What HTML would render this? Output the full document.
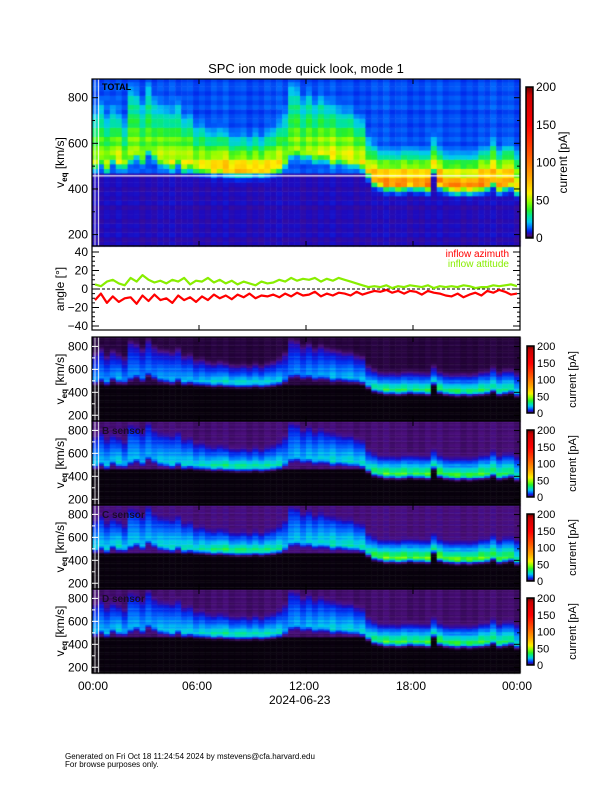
<!DOCTYPE html>
<html><head><meta charset="utf-8">
<style>
body{margin:0;background:#fff;}
#wrap{position:relative;width:612px;height:792px;overflow:hidden;background:#fff;font-family:"Liberation Sans",sans-serif;}
canvas{position:absolute;left:0;top:0;}
svg{position:absolute;left:0;top:0;}
text{font-family:"Liberation Sans",sans-serif;fill:#000;}
</style></head>
<body>
<div id="wrap">
<canvas id="cv" width="612" height="792"></canvas>
<svg id="sv" width="612" height="792">
<text x="306" y="73" font-size="13" text-anchor="middle">SPC ion mode quick look, mode 1</text>
<text x="78" y="690" font-size="12">00:00</text>
<text x="182" y="690" font-size="12">06:00</text>
<text x="289" y="690" font-size="12">12:00</text>
<text x="396" y="690" font-size="12">18:00</text>
<text x="502" y="690" font-size="12">00:00</text>
<text x="269" y="704" font-size="12">2024-06-23</text>
<text x="65" y="759" font-size="8">Generated on Fri Oct 18 11:24:54 2024 by mstevens@cfa.harvard.edu</text>
<text x="65" y="767" font-size="8">For browse purposes only.</text>
<text x="102" y="90" font-size="9" font-weight="bold">TOTAL</text>
<text x="102" y="434" font-size="10" font-weight="bold" style="fill:#1a0a2a">B sensor</text>
<text x="102" y="518" font-size="10" font-weight="bold" style="fill:#1a0a2a">C sensor</text>
<text x="102" y="602" font-size="10" font-weight="bold" style="fill:#1a0a2a">D sensor</text>
<text x="509" y="257" font-size="10" text-anchor="end" style="fill:#ff0000">inflow azimuth</text>
<text x="509" y="267" font-size="10" text-anchor="end" style="fill:#88ee00">inflow attitude</text>
<g id="ax"></g>
</svg>
</div>
<script>
// ---- data (20-minute bins, 72 per day) ----
const vPeak=[510,530,500,540,520,510, 540,560,530,580,550,530, 520,510,530,500,510,495, 495,490,485,490,485,480,
 478,480,478,485,478,485, 490,500,520,560, 570,550,560,540,550,545,530,535, 530,525,520,510, 470,440,430,
 420,420,415,420,425,420,420,415, 500,430,415, 410,405,410,405,410,415, 420,440,410,420,430,400];
const vTop=[680,720,650,700,660,640, 780,760,720,800,740,700, 700,680,720,650,660,620, 620,600,580,600,580,570,
 560,570,560,580,560,580, 600,620,680,800, 780,740,760,720,740,720,700,700, 680,680,660,640, 560,520,500,
 490,500,490,500,510,500,500,490, 560,500,490, 480,480,490,480,490,500, 510,540,500,520,520,500];
const ampTotal=[40,45,38,42,45,40, 40,38,42,36,40,42, 45,42,45,48,46,50, 52,55,58,60,62,60,
 65,62,66,60,64,58, 55,50,40,35, 38,40,42,45,42,45,48,46, 48,50,50,52, 60,75,85,
 90,88,92,90,85,88,90,92, 60,85,88, 90,92,88,90,92,90, 85,70,88,80,75,70];
const attitude=[5,3,8,10,6,4, 12,8,15,10,7,9, 6,10,8,12,5,9, 8,12,7,10,6,9, 5,8,6,4,8,6, 7,10,8,12,9,11,
 10,12,8,11,9,12, 10,8,6,4,2,3, 2,4,1,3,2,4, 3,2,4,1,3,2, 3,2,4,3,1,2, 2,4,3,4,5,3];
const azimuth=[-12,-5,-15,-8,-14,-10, -9,-16,-7,-13,-6,-12, -10,-15,-7,-12,-9,-14, -8,-12,-6,-10,-7,-11,
 -6,-9,-5,-10,-7,-8, -6,-9,-5,-8,-4,-7, -6,-3,-8,-5,-7,-4, -5,-7,-3,-6,-4,-2, -3,-1,-4,-2,-5,-2,
 -3,-6,-2,-4,-5,-7, -8,-5,-9,-6,-4,-7, -2,-4,-1,-3,-6,-5];
const sensorNames=['A','B','C','D'];
const sensorGain=[0.40,0.46,0.50,0.44];
const sensorBg=[2.2,3.8,4.2,3.6];
const cbTicks=[0,50,100,150,200];
const vTicks=[200,400,600,800];
const angTicks=[-40,-20,0,20,40];
const xTickHours=[0,6,12,18,24];

// ---- layout ----
const X0=92,X1=520,VMIN=150,VMAX=882,CUT=458;
const xs=h=>X0+(X1-X0)*h/24;
const panels=[{top:79,bot:246,kind:'total'},{top:337,bot:421,kind:0},{top:421,bot:505,kind:1},{top:505,bot:589,kind:2},{top:589,bot:673,kind:3}];
const AT=246,AB=330;
const ya=a=>289-a*0.925;
const stops=[[0,[0,0,0]],[1.5,[25,0,40]],[4,[75,15,125]],[7,[30,10,190]],[10,[0,40,235]],[15,[0,110,255]],[22,[0,200,240]],[30,[0,230,150]],[38,[40,240,40]],[48,[140,255,0]],[60,[255,240,0]],[80,[255,170,0]],[110,[255,90,0]],[150,[255,0,0]],[190,[200,0,0]],[200,[110,0,0]]];
function col(v){v=Math.max(0,Math.min(200,v));for(let i=1;i<stops.length;i++){if(v<=stops[i][0]){const a=stops[i-1],b=stops[i],f=(v-a[0])/(b[0]-a[0]);return 'rgb('+[0,1,2].map(k=>Math.round(a[1][k]+(b[1][k]-a[1][k])*f)).join(',')+')';}}return 'rgb(110,0,0)';}
const rowMod=[1,0.88,1.08,0.94,1.04,0.9,1.02];
const colMod=[1,0.9,1.06,0.95,1.1,0.92,1.0,1.04,0.88];
function prof(v,i){const p=vPeak[i],t=vTop[i];if(v<p){const d=(p-v)/28;return Math.exp(-d*d);}
 if(v<=t)return 1-0.65*(v-p)/Math.max(1,t-p);const d=(v-t)/50;return 0.35*Math.exp(-d*d);}
const cv=document.getElementById('cv').getContext('2d');
const N=vPeak.length;
panels.forEach((P,pi)=>{
 const ys=v=>P.bot-(P.bot-P.top)*(v-VMIN)/(VMAX-VMIN);
 const dv=pi===0?20:15;
 for(let i=0;i<N;i++){
  const xa=xs(24*i/N),xb=xs(24*(i+1)/N);
  let r=0;
  for(let v=VMIN;v<VMAX;v+=dv,r++){
   const m=rowMod[r%rowMod.length]*colMod[i%colMod.length];
   let val;
   if(P.kind==='total'){val=(7+(v>CUT?6:0))*m+ampTotal[i]*prof(v,i)*m;}
   else{const k=P.kind;val=(v>CUT?sensorBg[k]:0.5)*m+sensorGain[k]*ampTotal[i]*prof(v,i)*m;}
   cv.fillStyle=col(val);
   const y1=ys(Math.min(v+dv,VMAX)),y0=ys(v);
   cv.fillRect(xa,y1,xb-xa+0.5,y0-y1+0.5);
  }
 }
 if(pi===0){cv.fillStyle='#fff';cv.fillRect(X0,ys(CUT)-0.5,X1-X0,1.2);}
 cv.fillStyle='#fff';cv.fillRect(94.5,P.top,1,P.bot-P.top);cv.fillRect(98,P.top,1,P.bot-P.top);
});
// colorbars
function cbar(x,y0,y1){for(let y=y0;y<y1;y++){cv.fillStyle=col(200*(y1-y)/(y1-y0));cv.fillRect(x,y,7,1);}}
cbar(526,87,238);
[346,430,514,598].forEach(t=>cbar(527,t,t+67));

// ---- SVG axes ----
const NS='http://www.w3.org/2000/svg';const ax=document.getElementById('ax');
function el(tag,attrs,txt){const e=document.createElementNS(NS,tag);for(const k in attrs)e.setAttribute(k,attrs[k]);if(txt!==undefined)e.textContent=txt;ax.appendChild(e);return e;}
panels.forEach((P,pi)=>{
 const ys=v=>P.bot-(P.bot-P.top)*(v-VMIN)/(VMAX-VMIN);
 const fr=el('rect',{x:X0,y:P.top,width:X1-X0,height:P.bot-P.top,fill:'none',stroke:'#000','stroke-width':1.2});
 
 
 for(let v=200;v<=800;v+=100){const L=v%200===0?6:3;
  const t=el('line',{x1:X0,x2:X0+L,y1:ys(v),y2:ys(v),stroke:pi===0?'#000':'#fff','stroke-width':1});
  
  const t2=el('line',{x1:X1-L,x2:X1,y1:ys(v),y2:ys(v),stroke:'#000','stroke-width':1});
  }
 vTicks.forEach(v=>{const t=el('text',{x:X0-4,y:ys(v)+4,'font-size':12,'text-anchor':'end'},v);
  });
 const cy=(P.top+P.bot)/2;
 const yl=el('text',{x:0,y:0,'font-size':12,'text-anchor':'middle',transform:'translate(64,'+cy+') rotate(-90)'});
 yl.innerHTML='v<tspan font-size="8" dy="3" font-weight="bold">eq</tspan><tspan dy="-3"> [km/s]</tspan>';
 
 xTickHours.forEach(h=>{const t=el('line',{x1:xs(h),x2:xs(h),y1:P.bot,y2:P.bot-5,stroke:'#000'});
  
  const t2=el('line',{x1:xs(h),x2:xs(h),y1:P.top,y2:P.top+5,stroke:'#000'});
  });
});
// colorbar frames and labels
function cbLabels(x,y0,y1,fs,tx,name){
 const r=el('rect',{x:x,y:y0,width:7,height:y1-y0,fill:'none',stroke:'#000','stroke-width':1.5});
 
 cbTicks.forEach(c=>{const y=y1-(y1-y0)*c/200;const t=el('text',{x:x+10,y:y+4,'font-size':fs},c);
  });
 const t=el('text',{x:0,y:0,'font-size':fs,'text-anchor':'middle',transform:'translate('+tx+','+((y0+y1)/2)+') rotate(-90)'},'current [pA]');
 }
cbLabels(526,87,238,12,567,'colorbar-total');
[346,430,514,598].forEach((t,i)=>cbLabels(527,t,t+67,11,576,'colorbar-sensor-'+sensorNames[i]));
// angle panel
const af=el('rect',{x:X0,y:AT,width:X1-X0,height:AB-AT,fill:'none',stroke:'#000','stroke-width':1.2});

for(let a=-40;a<=40;a+=5){const L=a%20===0?7:3;
 const t=el('line',{x1:X0,x2:X0+L,y1:ya(a),y2:ya(a),stroke:'#000'});
 const t2=el('line',{x1:X1-L,x2:X1,y1:ya(a),y2:ya(a),stroke:'#000'});}
angTicks.forEach(a=>{const t=el('text',{x:X0-4,y:ya(a)+4,'font-size':12,'text-anchor':'end'},a===0?'0':String(a).replace('-','\u2212'));
 });
const at=el('text',{x:0,y:0,'font-size':12,'text-anchor':'middle',transform:'translate(64,289) rotate(-90)'},'angle [\u00b0]');

xTickHours.forEach(h=>{const t=el('line',{x1:xs(h),x2:xs(h),y1:AB,y2:AB-5,stroke:'#000'});});
const z=el('line',{x1:X0,x2:X1,y1:ya(0),y2:ya(0),stroke:'#000','stroke-dasharray':'3,2'});

function series(arr,color,name){const pts=arr.map((a,i)=>xs(24*(i+0.5)/arr.length).toFixed(1)+','+ya(a).toFixed(1)).join(' ');
 const p=el('polyline',{points:pts,fill:'none',stroke:color,'stroke-width':2.2,'stroke-linejoin':'round'});
 }
series(attitude,'#88ee00','inflow-attitude-line');
series(azimuth,'#ff0000','inflow-azimuth-line');
</script>
</body></html>
